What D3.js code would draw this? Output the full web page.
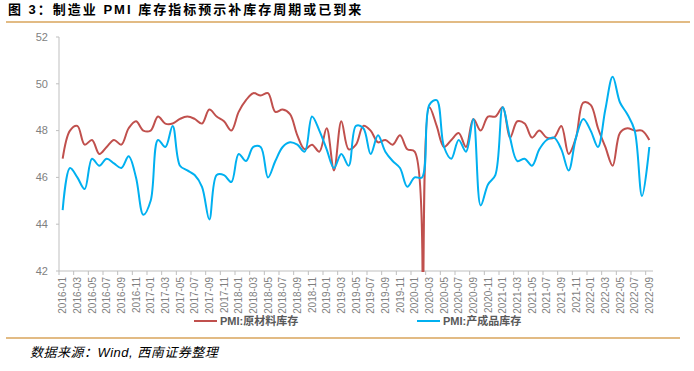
<!DOCTYPE html>
<html>
<head>
<meta charset="utf-8">
<script src="https://cdn.jsdelivr.net/npm/d3@7"></script>
<style>
    body { margin: 0; background: #fff; }
    svg { display: block; }
</style>
</head>
<body>
<svg id="chart" width="694" height="371"></svg>
<script>
// Months 2016-01 .. 2022-09
const years = [2016, 2017, 2018, 2019, 2020, 2021, 2022];
const months = [];
years.forEach(yr => {
    for (let m = 1; m <= 12; m++) {
        if (yr === 2022 && m > 9) break;
        months.push(yr + "-" + String(m).padStart(2, "0"));
    }
});

// PMI:原材料库存
const rawStock = [
    46.8, 48.0, 48.2, 47.4, 47.6, 47.0, 47.3, 47.6, 47.4, 48.1, 48.4, 48.0,
    48.0, 48.6, 48.3, 48.3, 48.5, 48.6, 48.5, 48.3, 48.9, 48.6, 48.4, 48.0,
    48.8, 49.3, 49.6, 49.5, 49.6, 48.8, 48.9, 48.7, 47.8, 47.2, 47.4, 47.1,
    48.1, 46.3, 48.4, 47.2, 47.4, 48.2, 48.0, 47.5, 47.6, 47.4, 47.8, 47.2,
    47.1, 33.9, 49.0, 48.2, 47.3, 47.6, 47.9, 47.3, 48.5, 48.0, 48.6, 48.6,
    49.0, 47.7, 48.4, 48.3, 47.7, 48.0, 47.7, 47.7, 48.2, 47.0, 47.7, 49.2,
    49.1, 48.1, 47.3, 46.5, 47.9, 48.1, 48.0, 48.0, 47.6
];

// PMI:产成品库存
const finishedStock = [
    44.6, 46.4, 46.0, 45.5, 46.8, 46.5, 46.8, 46.6, 46.4, 46.9, 46.0, 44.4,
    45.0, 47.6, 47.3, 48.2, 46.5, 46.3, 46.1, 45.6, 44.2, 46.1, 46.1, 45.8,
    47.0, 46.7, 47.3, 47.3, 46.0, 46.7, 47.3, 47.5, 47.4, 47.1, 48.6, 48.0,
    47.2, 46.4, 47.0, 46.5, 48.2, 48.1, 47.0, 47.8, 47.1, 46.7, 46.4, 45.6,
    46.0, 46.0, 49.1, 49.3, 47.3, 46.8, 47.6, 47.1, 48.5, 44.8, 45.7, 46.1,
    49.0, 47.7, 46.7, 46.8, 46.5, 47.2, 47.6, 47.7, 47.2, 46.3, 47.7, 48.5,
    48.0, 47.3, 48.9, 50.3, 49.2, 48.7, 48.0, 45.2, 47.3
];

const yTicks = [42, 44, 46, 48, 50, 52];
const seriesNames = ["PMI:原材料库存", "PMI:产成品库存"];
const seriesColors = ["#c0504d", "#00b0f0"];

const titleText = "图 3：制造业 PMI 库存指标预示补库存周期或已到来";
const sourceText = "数据来源：Wind, 西南证券整理";

const fontCN = "'Liberation Sans', Arial, 'Noto Sans CJK SC', sans-serif";
const axisGrey = "#595959";
const lineGrey = "#bfbfbf";
const gold = "#d9a45b";

const svg = d3.select("#chart");

// Plot frame (pixel bounds of the axes)
const plotL = 59, plotR = 653, plotT = 37, plotB = 271;

const x = d3.scalePoint()
    .domain(months)
    .range([plotL, plotR])
    .padding(0.5);
const step = x.step();

const y = d3.scaleLinear()
    .domain([42, 52])
    .range([plotB, plotT]);

// Title + rules
svg.append("text")
    .attr("x", 8)
    .attr("y", 14)
    .attr("font-family", fontCN)
    .attr("font-size", "13px")
    .attr("font-weight", "bold")
    .attr("letter-spacing", "2px")
    .attr("fill", "#000")
    .text(titleText);

svg.append("line")
    .attr("x1", 6).attr("x2", 690)
    .attr("y1", 22).attr("y2", 22)
    .attr("stroke", gold)
    .attr("stroke-width", 1.5);

svg.append("line")
    .attr("x1", 6).attr("x2", 680)
    .attr("y1", 338).attr("y2", 338)
    .attr("stroke", gold)
    .attr("stroke-width", 1.5);

svg.append("text")
    .attr("x", 30)
    .attr("y", 357)
    .attr("font-family", fontCN)
    .attr("font-size", "13px")
    .attr("font-style", "italic")
    .attr("letter-spacing", "0.5px")
    .attr("fill", "#000")
    .text(sourceText);

// Y axis
const yAxisG = svg.append("g");
yAxisG.append("line")
    .attr("x1", plotL).attr("x2", plotL)
    .attr("y1", plotT).attr("y2", plotB)
    .attr("stroke", lineGrey);
yAxisG.selectAll(".ytick")
    .data(yTicks)
    .enter()
    .append("line")
    .attr("x1", plotL - 3).attr("x2", plotL)
    .attr("y1", d => y(d)).attr("y2", d => y(d))
    .attr("stroke", lineGrey);
yAxisG.selectAll("text")
    .data(yTicks)
    .enter()
    .append("text")
    .attr("x", plotL - 11)
    .attr("y", d => y(d))
    .attr("dy", "0.35em")
    .attr("text-anchor", "end")
    .attr("font-family", "'Liberation Sans', Arial, sans-serif")
    .attr("font-size", "11px")
    .attr("fill", "#7f7f7f")
    .text(d => d);

// X axis (ticks on band boundaries, labels every 2 months)
const xAxisG = svg.append("g");
xAxisG.append("line")
    .attr("x1", plotL).attr("x2", plotR)
    .attr("y1", plotB).attr("y2", plotB)
    .attr("stroke", lineGrey);
const labelled = months.filter((d, i) => i % 2 === 0);
xAxisG.selectAll(".xtick")
    .data(labelled)
    .enter()
    .append("line")
    .attr("x1", d => x(d) - step / 2).attr("x2", d => x(d) - step / 2)
    .attr("y1", plotB).attr("y2", plotB + 4)
    .attr("stroke", lineGrey);
xAxisG.selectAll("text")
    .data(labelled)
    .enter()
    .append("text")
    .attr("transform", d => `translate(${x(d)},${plotB + 6}) rotate(-90)`)
    .attr("dy", "0.35em")
    .attr("text-anchor", "end")
    .attr("font-family", "'Liberation Sans', Arial, sans-serif")
    .attr("font-size", "10px")
    .attr("fill", "#7f7f7f")
    .text(d => d);

// Clip so the 2020-02 plunge is cut at the axis
svg.append("defs")
    .append("clipPath")
    .attr("id", "plotClip")
    .append("rect")
    .attr("x", plotL)
    .attr("y", plotT - 5)
    .attr("width", plotR - plotL + 5)
    .attr("height", plotB - plotT + 6);

const line = d3.line()
    .x((d, i) => x(months[i]))
    .y(d => y(d))
    .curve(d3.curveCatmullRom.alpha(0.5));

const linesGroup = svg.append("g").attr("clip-path", "url(#plotClip)");
[rawStock, finishedStock].forEach((s, k) => {
    linesGroup.append("path")
        .attr("d", line(s))
        .attr("fill", "none")
        .attr("stroke", seriesColors[k])
        .attr("stroke-width", 2);
});

// Legend
const legendX = [194, 417];
const legendG = svg.append("g");
seriesNames.forEach((name, k) => {
    legendG.append("line")
        .attr("x1", legendX[k]).attr("x2", legendX[k] + 23)
        .attr("y1", 321).attr("y2", 321)
        .attr("stroke", seriesColors[k])
        .attr("stroke-width", 2);
    legendG.append("text")
        .attr("x", legendX[k] + 26)
        .attr("y", 321)
        .attr("dy", "0.35em")
        .attr("font-family", fontCN)
        .attr("font-size", "11px")
        .attr("font-weight", "bold")
        .attr("fill", axisGrey)
        .text(name);
});
</script>
</body>
</html>
